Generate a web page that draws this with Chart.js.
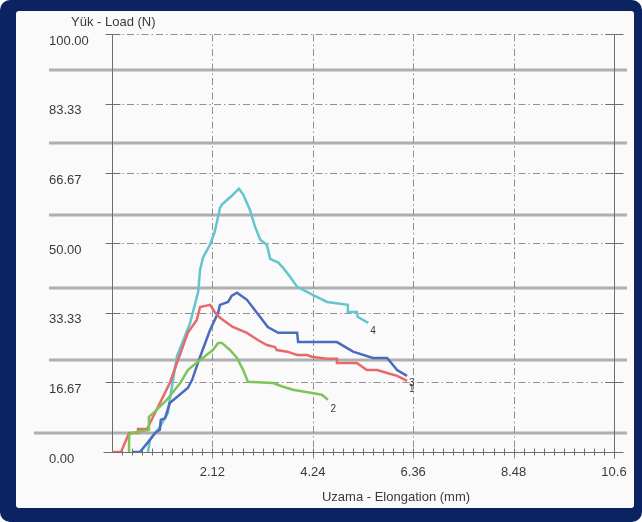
<!DOCTYPE html>
<html>
<head>
<meta charset="utf-8">
<script src="https://cdn.jsdelivr.net/npm/chart.js@4.4.1/dist/chart.umd.min.js"></script>
<style>
  body { margin: 0; background: #fff; }
  #frame { position: relative; width: 642px; height: 522px; background: #0b2361; border-radius: 10px; overflow: hidden; }
  #paper { position: absolute; left: 16px; top: 11px; width: 618px; height: 497px; background: #fafafa; border-radius: 3px; }
  #c { position: absolute; left: 0; top: 0; }
</style>
</head>
<body>
<div id="frame">
  <div id="paper"></div>
  <canvas id="c" width="642" height="522"></canvas>
</div>
<script>
// tick values and labels
var xTicks = [0, 2.12, 4.24, 6.36, 8.48, 10.6];
var xLabels = ['', '2.12', '4.24', '6.36', '8.48', '10.6'];
var yTicks = [0, 16.67, 33.33, 50, 66.67, 83.33, 100];
var yLabels = ['0.00', '16.67', '33.33', '50.00', '66.67', '83.33', '100.00'];

// curve 1 (red)
var s1x = [0, 0.19, 0.36, 0.55, 0.55, 0.74, 1.22, 1.60, 1.79, 1.86, 2.07, 2.17, 2.28, 2.55, 2.85, 3.08, 3.27, 3.44, 3.48, 3.70, 3.91, 4.12, 4.22, 4.54, 4.75, 4.75, 5.17, 5.38, 5.60, 5.81, 6.02, 6.23];
var s1y = [0, 0, 4.55, 4.55, 5.5, 5.5, 16.5, 28.5, 31.6, 34.7, 35.2, 33.5, 32.1, 29.9, 28.5, 26.8, 25.6, 25.1, 24.4, 24.0, 23.2, 23.2, 22.8, 22.3, 22.3, 21.3, 21.3, 19.6, 19.6, 18.9, 18.2, 17.0];
// curve 2 (green)
var s2x = [0.36, 0.36, 0.42, 0.78, 0.78, 0.87, 1.16, 1.44, 1.60, 1.86, 2.13, 2.24, 2.32, 2.49, 2.64, 2.77, 2.87, 3.40, 3.61, 3.82, 4.22, 4.43, 4.56];
var s2y = [0, 4.1, 4.55, 5.3, 8.4, 9.3, 12.5, 16.5, 19.6, 22.0, 24.4, 26.1, 26.1, 24.4, 22.5, 19.6, 16.8, 16.5, 15.6, 14.9, 14.1, 13.7, 12.5];
// curve 3 (blue)
var s3x = [0.42, 0.59, 0.80, 0.91, 1.01, 1.03, 1.12, 1.22, 1.60, 1.69, 1.86, 2.07, 2.24, 2.28, 2.45, 2.53, 2.64, 2.70, 2.85, 3.06, 3.29, 3.51, 3.91, 3.93, 4.75, 5.09, 5.51, 5.81, 6.02, 6.23];
var s3y = [0, 0, 2.9, 4.55, 5.3, 7.7, 8.1, 11.7, 15.3, 17.2, 22.8, 29.2, 33.3, 35.2, 35.9, 37.4, 38.1, 37.6, 36.4, 33.3, 29.9, 28.5, 28.5, 26.3, 26.3, 24.0, 22.5, 22.5, 19.6, 18.2];
// curve 4 (cyan)
var s4x = [0.76, 0.80, 1.01, 1.18, 1.22, 1.37, 1.65, 1.82, 1.86, 1.92, 2.07, 2.17, 2.28, 2.32, 2.53, 2.68, 2.77, 2.91, 3.02, 3.13, 3.27, 3.34, 3.51, 3.61, 3.76, 3.91, 4.24, 4.54, 4.98, 4.98, 5.17, 5.19, 5.41];
var s4y = [0, 2.9, 6.0, 9.3, 12.5, 22.8, 30.9, 38.3, 43.6, 46.5, 49.6, 52.7, 58.4, 59.2, 61.3, 63.0, 61.6, 58.0, 53.9, 50.8, 49.6, 46.2, 45.3, 44.1, 41.9, 39.5, 37.6, 35.9, 35.2, 33.5, 33.5, 32.3, 30.9];

// curve end labels: [text, x, y]
var curveLabels = [['4', 5.51, 29.0], ['2', 4.67, 10.3], ['3', 6.33, 16.5], ['1', 6.33, 14.9]];

function pts(xs, ys) {
  return xs.map(function (v, i) { return { x: v, y: ys[i] }; });
}

var FONT = '"Liberation Sans", Arial, sans-serif';
var TEXT = '#3a3a3a';

function seg(ctx, x1, y1, x2, y2) {
  ctx.beginPath(); ctx.moveTo(x1, y1); ctx.lineTo(x2, y2); ctx.stroke();
}

var paperPlugin = {
  id: 'paperPlugin',
  beforeDatasetsDraw: function (chart) {
    var ctx = chart.ctx, x = chart.scales.x, y = chart.scales.y;
    var L = Math.round(x.getPixelForValue(0)) + 0.5, R = Math.round(x.getPixelForValue(10.6)) + 0.5;
    var T = Math.round(y.getPixelForValue(100)) + 0.5, B = Math.round(y.getPixelForValue(0)) + 0.5;
    ctx.save();
    // ruled lines of the scanned form
    ctx.strokeStyle = 'rgba(150,150,150,0.75)';
    ctx.lineWidth = 3;
    [4.55, 21.9, 39.2, 56.6, 73.9, 91.3].forEach(function (v, i) {
      var py = Math.round(y.getPixelForValue(v));
      seg(ctx, i === 0 ? 34 : 49, py, 627, py);
    });
    // dash-dot grid
    ctx.strokeStyle = '#909090';
    ctx.lineWidth = 1;
    ctx.setLineDash([7, 3, 1.5, 3]);
    yTicks.slice(1).forEach(function (v) {
      var py = Math.round(y.getPixelForValue(v)) + 0.5;
      seg(ctx, L, py, R, py);
    });
    xTicks.slice(1, -1).forEach(function (v) {
      var px = Math.round(x.getPixelForValue(v)) + 0.5;
      seg(ctx, px, T, px, B + 6);
    });
    ctx.setLineDash([]);
    // axes
    ctx.strokeStyle = '#6e6e6e';
    seg(ctx, L, T, L, B);
    seg(ctx, R, T, R, B + 6);
    seg(ctx, L - 9, B, R + 8, B);
    yTicks.forEach(function (v) {
      var py = Math.round(y.getPixelForValue(v)) + 0.5;
      seg(ctx, L - 7, py, L + 8, py);
      seg(ctx, R - 9, py, R + 9, py);
    });
    for (var i = 1; i < 50; i++) {
      var px = Math.round(x.getPixelForValue(i * 10.6 / 50)) + 0.5;
      seg(ctx, px, B - 4, px, B + 3);
    }
    ctx.restore();
  },
  afterDatasetsDraw: function (chart) {
    var ctx = chart.ctx, x = chart.scales.x, y = chart.scales.y;
    ctx.save();
    ctx.fillStyle = TEXT;
    ctx.font = '10px ' + FONT;
    ctx.textAlign = 'center';
    ctx.textBaseline = 'middle';
    curveLabels.forEach(function (c) {
      ctx.fillText(c[0], x.getPixelForValue(c[1]), y.getPixelForValue(c[2]));
    });
    ctx.font = '13px ' + FONT;
    ctx.textAlign = 'left';
    ctx.fillText('Yük - Load (N)', 71, 22);
    ctx.textAlign = 'center';
    ctx.fillText('Uzama - Elongation (mm)', 396, 497);
    ctx.restore();
  }
};

var line = function (label, xs, ys, color) {
  return {
    label: label,
    data: pts(xs, ys),
    showLine: true,
    borderColor: color,
    backgroundColor: color,
    borderWidth: 2.5,
    pointRadius: 0,
    tension: 0,
    fill: false
  };
};

new Chart(document.getElementById('c').getContext('2d'), {
  type: 'scatter',
  data: {
    datasets: [
      line('2', s2x, s2y, '#7fc45a'),
      line('1', s1x, s1y, '#e8696c'),
      line('3', s3x, s3y, '#4b6bbd'),
      line('4', s4x, s4y, '#62c6cc')
    ]
  },
  options: {
    responsive: false,
    animation: false,
    devicePixelRatio: 1,
    layout: { padding: { left: 49, top: 34, right: 28, bottom: 30 } },
    plugins: {
      legend: { display: false },
      tooltip: { enabled: false }
    },
    scales: {
      x: {
        type: 'linear',
        min: 0,
        max: 10.6,
        afterBuildTicks: function (s) { s.ticks = xTicks.map(function (v) { return { value: v }; }); },
        afterFit: function (s) { s.height = 40; },
        grid: { display: false },
        border: { display: false },
        ticks: {
          autoSkip: false,
          maxRotation: 0,
          padding: 5,
          color: TEXT,
          font: { family: FONT, size: 13 },
          callback: function (v, i) { return xLabels[i]; }
        }
      },
      y: {
        type: 'linear',
        min: 0,
        max: 100,
        afterBuildTicks: function (s) { s.ticks = yTicks.map(function (v) { return { value: v }; }); },
        afterFit: function (s) { s.width = 63; },
        grid: { display: false },
        border: { display: false },
        ticks: {
          autoSkip: false,
          crossAlign: 'far',
          labelOffset: 7,
          color: TEXT,
          font: { family: FONT, size: 13 },
          callback: function (v, i) { return yLabels[i]; }
        }
      }
    }
  },
  plugins: [paperPlugin]
});
</script>
</body>
</html>
